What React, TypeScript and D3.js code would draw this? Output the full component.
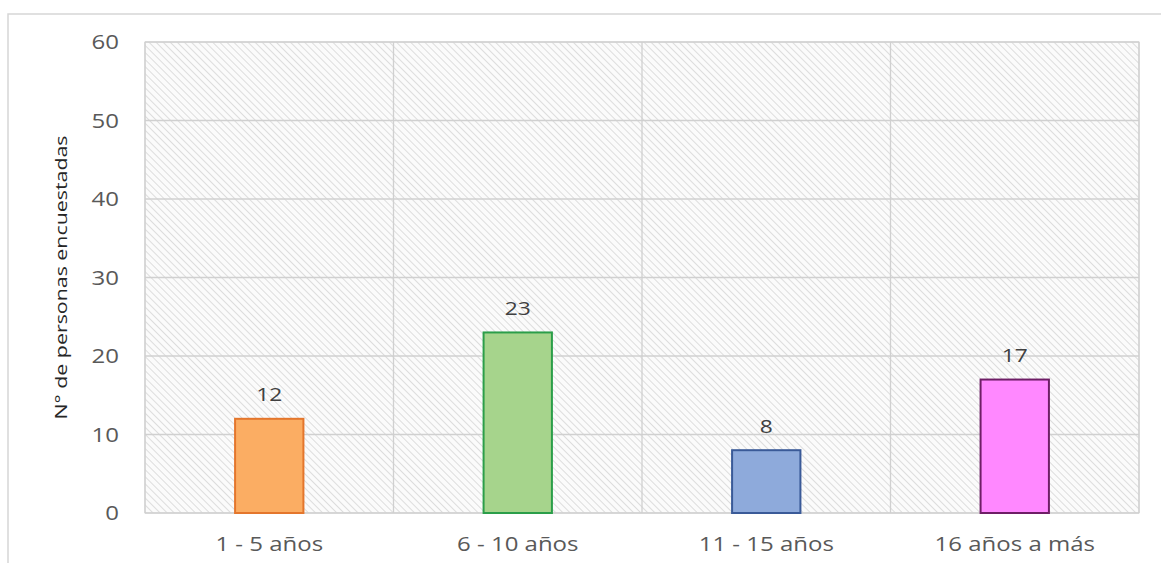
import React from "react";
import * as d3 from "d3";

// Survey: years of experience of respondents
const categories = ["1 - 5 años", "6 - 10 años", "11 - 15 años", "16 años a más"];
const counts = [12, 23, 8, 17];
const fills = ["#FBAD63", "#A6D48C", "#8EAADB", "#FF88FF"];
const strokes = ["#E4762C", "#2B9E49", "#3A5A98", "#6E1E66"];
const yTicks = [0, 10, 20, 30, 40, 50, 60];
const yTitle = "N° de personas encuestadas";

const W = 1161;
const H = 563;
const margin = { left: 145, right: 22, top: 42, bottom: 50 };

// widen text horizontally a little, like the wide rendering of the original font
const stretch = 1.2;

export default function App() {
  const x = d3
    .scaleBand<string>()
    .domain(categories)
    .range([margin.left, W - margin.right])
    .paddingInner(0)
    .paddingOuter(0);
  const y = d3.scaleLinear().domain([0, 60]).range([H - margin.bottom, margin.top]);
  const barW = x.bandwidth() * 0.275;
  const font = "'Open Sans', 'DejaVu Sans', sans-serif";

  const Label = (props: {
    x: number;
    y: number;
    anchor: string;
    size: number;
    fill: string;
    children: React.ReactNode;
  }) => (
    <g transform={`translate(${props.x},${props.y}) scale(${stretch},1)`}>
      <text
        dy="0.35em"
        textAnchor={props.anchor}
        fontFamily={font}
        fontSize={props.size}
        fill={props.fill}
      >
        {props.children}
      </text>
    </g>
  );

  return (
    <svg
      width={W}
      height={H}
      style={{ position: "absolute", left: 0, top: 0, background: "#fff" }}
    >
      <defs>
        <pattern
          id="hatch"
          width={5}
          height={5}
          patternUnits="userSpaceOnUse"
          patternTransform="rotate(-45)"
        >
          <rect width={5} height={5} fill="#fbfbfb" />
          <line x1={0} y1={0} x2={0} y2={5} stroke="#d8d8d8" strokeWidth={1.7} />
        </pattern>
      </defs>

      {/* outer chart frame */}
      <rect x={8} y={14} width={W + 10} height={H + 10} fill="#fff" stroke="#d6d6d6" strokeWidth={1.5} />

      {/* plot background */}
      <rect
        x={margin.left}
        y={margin.top}
        width={W - margin.left - margin.right}
        height={y(0) - margin.top}
        fill="url(#hatch)"
        stroke="#d4d4d4"
        strokeWidth={1}
      />

      {/* horizontal gridlines */}
      {yTicks.map((t) => (
        <line
          key={"h" + t}
          x1={margin.left}
          x2={W - margin.right}
          y1={y(t)}
          y2={y(t)}
          stroke="#d0d0d0"
          strokeWidth={1.3}
        />
      ))}

      {/* vertical gridlines at category boundaries */}
      {categories.map((c) => (
        <line
          key={"v" + c}
          x1={x(c)!}
          x2={x(c)!}
          y1={margin.top}
          y2={y(0)}
          stroke="#d0d0d0"
          strokeWidth={1.3}
        />
      ))}
      <line
        x1={W - margin.right}
        x2={W - margin.right}
        y1={margin.top}
        y2={y(0)}
        stroke="#d0d0d0"
        strokeWidth={1.3}
      />

      {/* y tick labels */}
      {yTicks.map((t) => (
        <Label key={"yt" + t} x={margin.left - 26} y={y(t)} anchor="end" size={20} fill="#595959">
          {t}
        </Label>
      ))}

      {/* y axis title */}
      <text
        transform={`translate(67, ${(margin.top + y(0)) / 2}) rotate(-90)`}
        textAnchor="middle"
        fontFamily={font}
        fontSize={16}
        fill="#262626"
        textLength={284}
        lengthAdjust="spacingAndGlyphs"
      >
        {yTitle}
      </text>

      {/* bars */}
      {categories.map((c, i) => {
        const cx = x(c)! + x.bandwidth() / 2;
        return (
          <g key={"b" + c}>
            <rect
              x={cx - barW / 2}
              y={y(counts[i])}
              width={barW}
              height={y(0) - y(counts[i])}
              fill={fills[i]}
              stroke={strokes[i]}
              strokeWidth={2}
            />
            <Label x={cx} y={y(counts[i]) - 24} anchor="middle" size={19} fill="#404040">
              {counts[i]}
            </Label>
            <Label x={cx} y={y(0) + 31} anchor="middle" size={20} fill="#595959">
              {c}
            </Label>
          </g>
        );
      })}
    </svg>
  );
}
